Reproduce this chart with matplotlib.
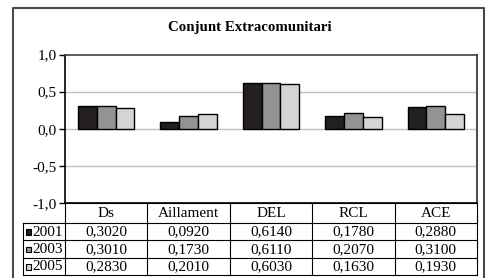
import matplotlib
matplotlib.use("Agg")
import matplotlib.pyplot as plt
from matplotlib.patches import Rectangle
from matplotlib.lines import Line2D
import numpy as np

plt.rcParams['font.family'] = ['Liberation Serif', 'DejaVu Serif']

title = "Conjunt Extracomunitari"
categories = ["Ds", "Aillament", "DEL", "RCL", "ACE"]
series_names = ["2001", "2003", "2005"]
values_2001 = [0.3020, 0.0920, 0.6140, 0.1780, 0.2880]
values_2003 = [0.3010, 0.1730, 0.6110, 0.2070, 0.3100]
values_2005 = [0.2830, 0.2010, 0.6030, 0.1630, 0.1930]
yticks = [-1.0, -0.5, 0.0, 0.5, 1.0]
colors = ["#231f20", "#939393", "#d4d4d6"]

series = [values_2001, values_2003, values_2005]

W, H = 486, 278
fig = plt.figure(figsize=(W / 100, H / 100), dpi=100)

def fx(px):
    return px / W

def fy(py):
    return 1 - py / H

# plot area in pixels
L, R, T, B = 65, 477, 54.5, 203
ax = fig.add_axes([fx(L), fy(B), fx(R) - fx(L), fy(T) - fy(B)])

n = len(categories)
x = np.arange(n)
bw = 0.228
for i, (vals, c) in enumerate(zip(series, colors)):
    ax.bar(x + (i - 1) * bw, vals, width=bw, color=c, edgecolor="black",
           linewidth=1.0, zorder=3)

ax.set_xlim(-0.5, n - 0.5)
ax.set_ylim(-1.0, 1.0)
ax.set_yticks(yticks)
ax.set_yticklabels([f"{v:.1f}".replace(".", ",") for v in yticks], fontsize=11)
ax.set_xticks([])
for v in yticks[1:-1]:
    ax.axhline(v, color="#c0c0c0", linewidth=1.0, zorder=1)
ax.tick_params(axis="y", direction="out", length=4, width=1, pad=2)
ax.spines["left"].set_color("black")
ax.spines["left"].set_linewidth(1.2)
ax.spines["bottom"].set_color("black")
ax.spines["bottom"].set_linewidth(1.2)
ax.spines["top"].set_color("#404040")
ax.spines["top"].set_linewidth(1.2)
ax.spines["right"].set_color("#505050")
ax.spines["right"].set_linewidth(1.5)

# outer border
fig.add_artist(Line2D([fx(13), fx(13), fx(484), fx(484)],
                      [fy(280), fy(7.5), fy(7.5), fy(280)],
                      color="#4a4a4a", linewidth=1.5, transform=fig.transFigure))

# title
fig.text(fx(250), fy(27.5), title, ha="center", va="center",
         fontsize=10.7, fontweight="bold")

# table
row_y = [203, 223, 240, 257.7, 275]
col_w = (R - L) / n
leg_L = 23
lw = 0.8
# horizontal lines
fig.add_artist(Line2D([fx(L), fx(R)], [fy(row_y[0])] * 2, color="black",
                      linewidth=lw, transform=fig.transFigure))
for yy in row_y[1:]:
    fig.add_artist(Line2D([fx(leg_L), fx(R)], [fy(yy)] * 2, color="black",
                          linewidth=lw, transform=fig.transFigure))
# vertical lines
for j in range(n + 1):
    xx = L + j * col_w
    fig.add_artist(Line2D([fx(xx)] * 2, [fy(row_y[0]), fy(row_y[-1])],
                          color="black", linewidth=lw, transform=fig.transFigure))
fig.add_artist(Line2D([fx(leg_L)] * 2, [fy(row_y[1]), fy(row_y[-1])],
                      color="black", linewidth=lw, transform=fig.transFigure))

fs = 11
# header
for j, cat in enumerate(categories):
    fig.text(fx(L + (j + 0.5) * col_w), fy((row_y[0] + row_y[1]) / 2 + 0.5), cat,
             ha="center", va="center", fontsize=fs)
# rows
for i, (name, vals, c) in enumerate(zip(series_names, series, colors)):
    yc = (row_y[i + 1] + row_y[i + 2]) / 2 + 0.5
    sq = 5.5
    fig.add_artist(Rectangle((fx(25.5), fy(yc + sq / 2)), fx(sq), sq / H,
                             facecolor=c, edgecolor="black", linewidth=0.8,
                             transform=fig.transFigure))
    fig.text(fx(32), fy(yc), name, ha="left", va="center", fontsize=fs)
    for j, v in enumerate(vals):
        fig.text(fx(L + (j + 0.5) * col_w), fy(yc), f"{v:.4f}".replace(".", ","),
                 ha="center", va="center", fontsize=fs)

fig.savefig("out.png", dpi=100)
